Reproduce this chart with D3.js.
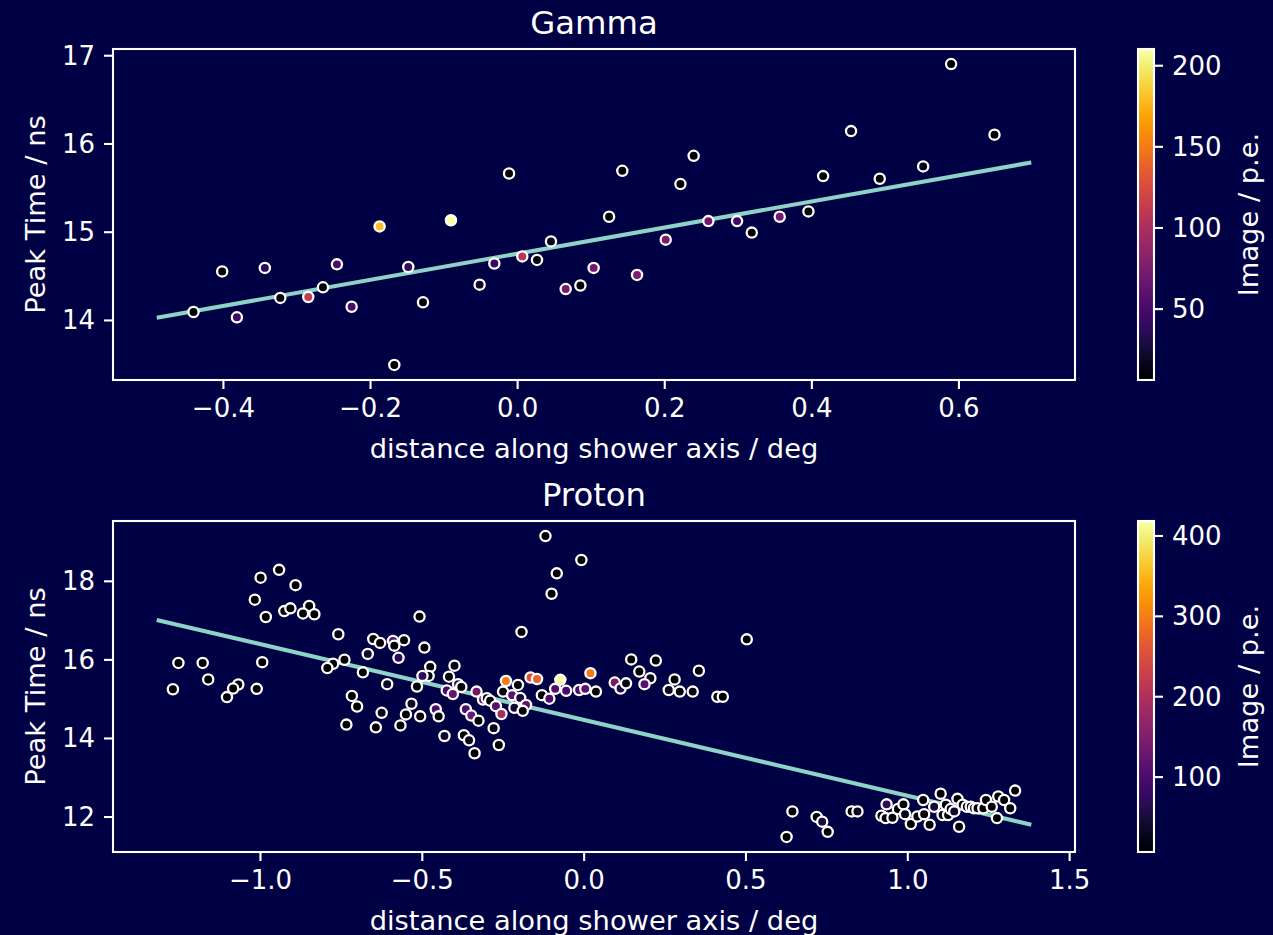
<!DOCTYPE html>
<html>
<head>
<meta charset="utf-8">
<script src="https://cdn.jsdelivr.net/npm/d3@7"></script>
<style>
  html, body { margin: 0; padding: 0; background: #000044; }
  svg { display: block; }
  text { font-family: "DejaVu Sans", sans-serif; fill: #ffffff; }
</style>
</head>
<body>
<svg id="fig" width="1273" height="935"></svg>
<script>
// ---- Gamma event: pixel positions along shower axis, peak times, charges ----
const gammaX = [-0.440,-0.401,-0.381,-0.343,-0.322,-0.284,-0.264,-0.245,-0.225,-0.187,
                -0.167,-0.148,-0.128,-0.090,-0.051,-0.031,-0.011,0.007,0.027,0.046,
                0.066,0.086,0.104,0.125,0.143,0.163,0.202,0.222,0.240,0.260,
                0.299,0.319,0.357,0.396,0.416,0.454,0.493,0.552,0.590,0.649];
const gammaY = [14.09,14.55,14.03,14.59,14.25,14.26,14.37,14.63,14.15,15.06,
                13.49,14.60,14.20,15.13,14.40,14.64,15.66,14.72,14.68,14.89,
                14.35,14.39,14.59,15.17,15.69,14.51,14.91,15.54,15.86,15.12,
                15.12,14.99,15.17,15.23,15.63,16.14,15.60,15.74,16.90,16.10];
const gammaCharge = [9,8,47,38,10,112,9,52,50,180,
                     8,40,11,210,22,42,8,106,10,16,
                     73,9,70,9,8,75,75,9,10,68,
                     45,8,70,9,10,18,8,16,6,9];
const gammaFit = [1.48, 14.75];          // slope, intercept
const gammaXTicks = [-0.4,-0.2,0.0,0.2,0.4,0.6];
const gammaYTicks = [14,15,16,17];
const gammaCbarTicks = [50,100,150,200];

// ---- Proton event ----
const protonX = [
  -1.252,-1.177,-1.160,-1.269,-1.067,-1.083,-1.102,-1.010,-0.993,-1.016,
  -0.998,-0.941,-0.890,-0.982,-0.925,-0.906,-0.848,-0.867,-0.832,-0.758,
  -0.739,-0.774,-0.792,-0.682,-0.716,-0.700,-0.733,-0.667,-0.650,-0.629,
  -0.589,-0.585,-0.555,-0.572,-0.507,-0.492,-0.474,-0.479,-0.498,-0.515,
  -0.607,-0.642,-0.624,-0.566,-0.549,-0.532,-0.505,-0.457,-0.448,-0.430,
  -0.192,-0.399,-0.416,-0.388,-0.378,-0.423,-0.404,-0.331,-0.311,-0.299,
  -0.289,-0.271,-0.254,-0.240,-0.203,-0.249,-0.221,-0.196,-0.178,-0.214,
  -0.188,-0.164,-0.144,-0.129,-0.106,-0.088,-0.072,-0.054,-0.014,0.005,
  0.021,-0.364,-0.347,-0.325,-0.370,-0.354,-0.337,-0.278,-0.262,
  -0.118,-0.007,-0.083,-0.099,0.504,
  0.038,0.147,0.223,0.172,0.206,0.188,0.096,0.114,0.131,0.281,
  0.263,0.297,0.337,0.356,0.413,0.430,
  0.645,0.627,0.720,0.737,0.754,0.828,0.846,0.936,0.920,0.933,
  0.954,0.971,0.988,0.993,1.011,1.031,1.049,1.052,1.069,1.083,
  1.103,1.109,1.119,1.126,1.134,1.145,1.155,1.160,1.171,1.184,
  1.196,1.206,1.217,1.235,1.243,1.261,1.277,1.281,1.299,1.318,1.333];
const protonY = [
  15.91,15.91,15.49,15.24,15.36,15.26,15.04,15.25,15.93,17.52,
  18.08,18.28,17.89,17.08,17.23,17.30,17.36,17.17,17.15,16.64,
  15.99,15.89,15.78,15.67,15.07,14.80,14.34,16.14,16.52,16.42,
  16.47,16.35,16.49,16.04,17.09,16.30,15.81,15.58,15.58,15.31,
  15.37,14.27,14.64,14.32,14.60,14.87,14.55,14.73,14.55,14.05,
  16.70,15.84,15.56,15.37,15.30,15.21,15.12,15.18,14.98,15.01,
  14.95,14.81,14.61,15.45,15.35,15.18,15.09,15.02,14.84,14.77,
  14.69,15.54,15.50,15.09,15.00,15.25,15.48,15.20,15.22,15.25,
  15.65,14.73,14.57,14.44,14.07,13.94,13.61,14.25,13.82,
  19.14,18.53,18.19,17.67,16.51,
  15.18,16.00,15.97,15.69,15.52,15.37,15.41,15.26,15.39,15.49,
  15.22,15.18,15.18,15.71,15.05,15.05,
  12.13,11.48,11.99,11.87,11.61,12.13,12.13,12.31,12.02,11.96,
  11.97,12.19,12.31,12.06,11.81,12.00,12.42,12.06,11.79,12.25,
  12.58,12.04,12.30,12.04,12.19,12.13,12.45,11.74,12.30,12.25,
  12.25,12.21,12.21,12.21,12.42,12.25,11.96,12.51,12.42,12.21,12.66];
const protonCharge = [
  8,9,7,8,10,9,8,11,9,7,
  8,7,9,8,10,9,8,7,9,22,
  10,9,8,10,9,11,8,40,12,10,
  110,12,9,70,8,11,10,9,75,10,
  35,8,35,9,12,35,10,95,12,40,
  9,25,12,70,15,95,120,135,125,14,
  12,110,190,300,10,11,115,45,120,40,
  10,250,275,12,105,105,418,95,100,115,
  295,100,130,10,12,35,6.2,30,9,
  8,9,7,10,9,
  10,9,8,10,30,110,140,60,25,9,
  35,10,25,8,12,9,
  8,7,9,50,8,10,30,70,9,8,
  10,9,8,25,9,10,8,11,9,45,
  8,10,9,12,10,40,9,8,11,10,
  9,12,10,8,9,11,8,10,9,12,8];
const protonFit = [-1.93, 14.46];
const protonXTicks = [-1.0,-0.5,0.0,0.5,1.0,1.5];
const protonYTicks = [12,14,16,18];
const protonCbarTicks = [100,200,300,400];

const xLabel = "distance along shower axis / deg";
const yLabel = "Peak Time / ns";
const cLabel = "Image / p.e.";

const FIT_COLOR = "#8dd3c7";
const AX_LEFT = 113, AX_RIGHT = 1075, CB_LEFT = 1138, CB_W = 16;
const TICK = 9, PAD = 9, FS = 26, LABEL_FS = 27.3, TITLE_FS = 32.3;

const panels = [
  { title: "Gamma", xs: gammaX, ys: gammaY, cs: gammaCharge, fit: gammaFit,
    xt: gammaXTicks, yt: gammaYTicks, ct: gammaCbarTicks, top: 49, bottom: 380 },
  { title: "Proton", xs: protonX, ys: protonY, cs: protonCharge, fit: protonFit,
    xt: protonXTicks, yt: protonYTicks, ct: protonCbarTicks, top: 521, bottom: 852 }
];

const svg = d3.select("#fig");
const defs = svg.append("defs");
const fmtMinus = s => s.replace("-", "\u2212");

// pad an interval by 5% on each side
function padded([a, b]) { const m = (b - a) * 0.05; return [a - m, b + m]; }

panels.forEach((p, i) => {
  const pts = p.xs.map((x, k) => ({ x, y: p.ys[k], c: p.cs[k] }));
  const xe = d3.extent(p.xs);
  const lineX = [xe[0] - 0.05, xe[1] + 0.05];
  const fitPts = lineX.map(x => ({ x, y: p.fit[0] * x + p.fit[1] }));

  const xAll = lineX.concat(p.xs);
  const x = d3.scaleLinear().domain(padded(d3.extent(xAll))).range([AX_LEFT, AX_RIGHT]);
  const y = d3.scaleLinear().domain(padded(d3.extent(p.ys))).range([p.bottom, p.top]);
  const cExt = d3.extent(p.cs);
  const color = d3.scaleSequential(d3.interpolateInferno).domain(cExt);

  const g = svg.append("g");
  const clipId = "clip" + i;
  defs.append("clipPath").attr("id", clipId).append("rect")
    .attr("x", AX_LEFT).attr("y", p.top).attr("width", AX_RIGHT - AX_LEFT).attr("height", p.bottom - p.top);

  // fit line
  g.append("path").datum(fitPts)
    .attr("clip-path", `url(#${clipId})`)
    .attr("d", d3.line().x(d => x(d.x)).y(d => y(d.y)))
    .attr("fill", "none").attr("stroke", FIT_COLOR).attr("stroke-width", 4.1);

  // pixels
  g.append("g").attr("clip-path", `url(#${clipId})`)
    .selectAll("circle").data(pts).join("circle")
    .attr("cx", d => x(d.x)).attr("cy", d => y(d.y)).attr("r", 5.1)
    .attr("fill", d => color(d.c)).attr("stroke", "#ffffff").attr("stroke-width", 2.3);

  // axes
  const xAxis = d3.axisBottom(x).tickValues(p.xt).tickSize(TICK).tickPadding(PAD)
    .tickFormat(v => fmtMinus(d3.format(".1f")(v)));
  const yAxis = d3.axisLeft(y).tickValues(p.yt).tickSize(TICK).tickPadding(PAD)
    .tickFormat(d3.format("d"));
  const gx = g.append("g").attr("transform", `translate(0,${p.bottom})`).call(xAxis);
  const gy = g.append("g").attr("transform", `translate(${AX_LEFT},0)`).call(yAxis);
  [gx, gy].forEach(a => {
    a.select(".domain").remove();
    a.selectAll(".tick line").attr("stroke", "#ffffff").attr("stroke-width", 2.1);
    a.selectAll(".tick text").attr("font-size", FS).attr("fill", "#ffffff")
      .attr("font-family", "DejaVu Sans");
  });
  gx.selectAll(".tick text").attr("dy", null).attr("y", TICK + PAD)
    .attr("dominant-baseline", "hanging");
  gy.selectAll(".tick text").attr("dy", null).attr("dominant-baseline", "central");

  // frame
  g.append("rect").attr("x", AX_LEFT).attr("y", p.top)
    .attr("width", AX_RIGHT - AX_LEFT).attr("height", p.bottom - p.top)
    .attr("fill", "none").attr("stroke", "#ffffff").attr("stroke-width", 2.1);

  // labels
  g.append("text").attr("x", (AX_LEFT + AX_RIGHT) / 2).attr("y", p.top - 15.5)
    .attr("text-anchor", "middle").attr("font-size", TITLE_FS).text(p.title);
  g.append("text").attr("x", (AX_LEFT + AX_RIGHT) / 2).attr("y", p.bottom + 78)
    .attr("text-anchor", "middle").attr("font-size", LABEL_FS).text(xLabel);
  g.append("text")
    .attr("transform", `translate(44.5,${(p.top + p.bottom) / 2}) rotate(-90)`)
    .attr("text-anchor", "middle").attr("font-size", LABEL_FS).text(yLabel);

  // colorbar
  const gradId = "grad" + i;
  const grad = defs.append("linearGradient").attr("id", gradId)
    .attr("x1", 0).attr("y1", 1).attr("x2", 0).attr("y2", 0);
  d3.range(0, 1.0001, 0.02).forEach(t =>
    grad.append("stop").attr("offset", t).attr("stop-color", d3.interpolateInferno(t)));
  const cy = d3.scaleLinear().domain(cExt).range([p.bottom, p.top]);
  g.append("rect").attr("x", CB_LEFT).attr("y", p.top).attr("width", CB_W)
    .attr("height", p.bottom - p.top).attr("fill", `url(#${gradId})`);
  const cAxis = d3.axisRight(cy).tickValues(p.ct).tickSize(TICK).tickPadding(PAD)
    .tickFormat(d3.format("d"));
  const gc = g.append("g").attr("transform", `translate(${CB_LEFT + CB_W},0)`).call(cAxis);
  gc.select(".domain").remove();
  gc.selectAll(".tick line").attr("stroke", "#ffffff").attr("stroke-width", 2.1);
  gc.selectAll(".tick text").attr("font-size", FS).attr("fill", "#ffffff")
    .attr("dy", null).attr("dominant-baseline", "central").attr("font-family", "DejaVu Sans");
  g.append("rect").attr("x", CB_LEFT).attr("y", p.top).attr("width", CB_W)
    .attr("height", p.bottom - p.top).attr("fill", "none")
    .attr("stroke", "#ffffff").attr("stroke-width", 2.1);
  g.append("text")
    .attr("transform", `translate(1258,${(p.top + p.bottom) / 2}) rotate(-90)`)
    .attr("text-anchor", "middle").attr("font-size", LABEL_FS).text(cLabel);
});
</script>
</body>
</html>
